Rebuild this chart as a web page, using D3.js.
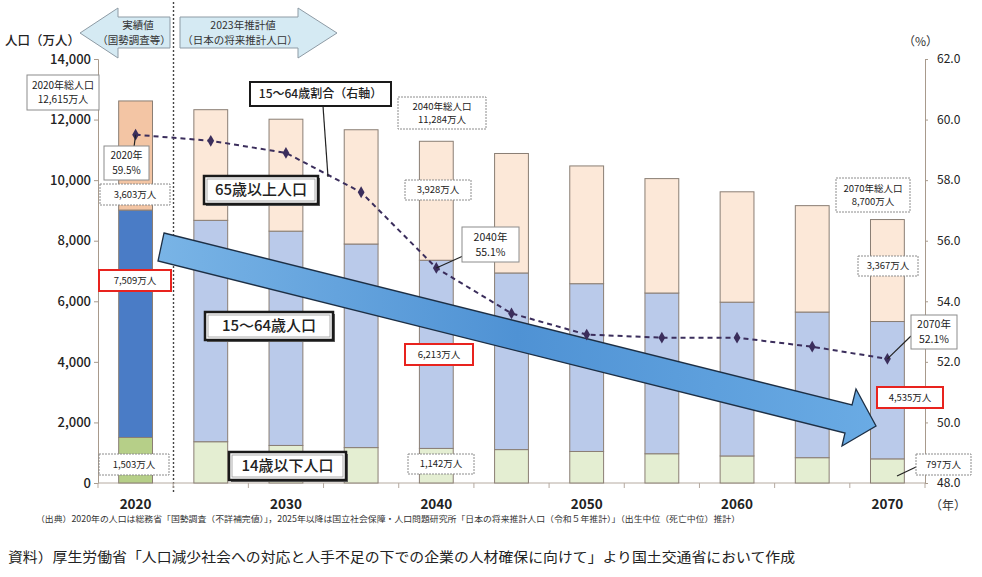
<!DOCTYPE html>
<html>
<head>
<meta charset="utf-8">
<script src="https://cdn.jsdelivr.net/npm/d3@7"></script>
<style>
  body { margin: 0; background: #fff; }
  svg { display: block; font-family: "Noto Sans CJK JP", "Noto Sans", sans-serif; }
</style>
</head>
<body>
<svg id="chart" width="982" height="577"></svg>
<script>
// Data (万人, %)
const years = [2020, 2025, 2030, 2035, 2040, 2045, 2050, 2055, 2060, 2065, 2070];
const pop0to14 = [1503, 1363, 1240, 1169, 1142, 1103, 1041, 966, 893, 836, 797];
const pop15to64 = [7509, 7310, 7076, 6722, 6213, 5832, 5540, 5307, 5078, 4809, 4535];
const pop65plus = [3603, 3653, 3696, 3773, 3928, 3945, 3888, 3778, 3644, 3513, 3367];
const ratio15to64 = [59.5, 59.3, 58.9, 57.6, 55.1, 53.6, 52.9, 52.8, 52.8, 52.5, 52.1];
const labelYears = [2020, 2030, 2040, 2050, 2060, 2070];
const leftTicks = [0, 2000, 4000, 6000, 8000, 10000, 12000, 14000];
const rightTicks = [48, 50, 52, 54, 56, 58, 60, 62];

// Layer colours: [actual (2020), projection]
const layerColours = {
  young:   ["#b6cf88", "#e4eed2"],
  working: ["#4a7cc6", "#bacaea"],
  old:     ["#f3c5a4", "#fce8d8"]
};

let table = years.map((y, i) => ({
  year: y, young: pop0to14[i], working: pop15to64[i], old: pop65plus[i], ratio: ratio15to64[i]
}));

let svg = d3.select("#chart");

// Scales
let x = d3.scaleBand().domain(years).range([98, 925]).paddingInner(0.55).paddingOuter(0.275);
let yL = d3.scaleLinear().domain([0, 14000]).range([483, 59]);
let yR = d3.scaleLinear().domain([48, 62]).range([483, 59]);

// Top period arrows
let arrowG = svg.append("g");
arrowG.append("path")
  .attr("d", "M80,33 L118,8 L118,17 L170,17 L170,48 L118,48 L118,58 Z")
  .attr("fill", "#d5eaf3").attr("stroke", "#8e9ba5").attr("stroke-width", 1);
arrowG.append("path")
  .attr("d", "M180,17 L298,17 L298,8 L337,33 L298,58 L298,48 L180,48 Z")
  .attr("fill", "#d5eaf3").attr("stroke", "#8e9ba5").attr("stroke-width", 1);
arrowG.selectAll("text")
  .data([
    ["実績値", 138, 29], ["（国勢調査等）", 134, 44],
    ["2023年推計値", 243, 29], ["（日本の将来推計人口）", 240, 44]
  ])
  .join("text")
    .attr("x", d => d[1]).attr("y", d => d[2])
    .attr("text-anchor", "middle")
    .attr("font-size", 10.5).attr("fill", "#333")
    .text(d => d[0]);

// Actual / projection divider
svg.append("line")
  .attr("x1", 173.5).attr("x2", 173.5).attr("y1", 2).attr("y2", 492)
  .attr("stroke", "#444").attr("stroke-width", 1.4).attr("stroke-dasharray", "2,2");

// Axis titles
svg.append("text").attr("x", 5).attr("y", 45).attr("font-size", 12.5).attr("font-weight", 500)
  .attr("fill", "#222").text("人口（万人）");
svg.append("text").attr("x", 903).attr("y", 46).attr("font-size", 12)
  .attr("fill", "#333").text("（%）");
svg.append("text").attr("x", 930).attr("y", 510).attr("font-size", 12)
  .attr("fill", "#333").text("（年）");

// Left axis
let axL = svg.append("g").attr("transform", "translate(98,0)")
  .call(d3.axisLeft(yL).tickValues(leftTicks).tickSize(4).tickPadding(3).tickFormat(d3.format(",")));
axL.select(".domain").attr("stroke", "#a89a8c");
axL.selectAll(".tick line").attr("stroke", "#a89a8c");
axL.selectAll(".tick text").attr("font-size", 13).attr("font-weight", 500)
  .attr("fill", "#222").attr("font-family", "'Noto Sans CJK JP', sans-serif");

// Right axis
let axR = svg.append("g").attr("transform", "translate(925,0)")
  .call(d3.axisRight(yR).tickValues(rightTicks).tickSize(3).tickPadding(9).tickFormat(d3.format(".1f")));
axR.select(".domain").attr("stroke", "#a89a8c");
axR.selectAll(".tick line").attr("stroke", "#a89a8c");
axR.selectAll(".tick text").attr("font-size", 12).attr("fill", "#222")
  .attr("font-family", "'Noto Sans CJK JP', sans-serif");

// Bottom axis: baseline, boundary ticks, decade labels
svg.append("line").attr("x1", 98).attr("x2", 925).attr("y1", yL(0)).attr("y2", yL(0))
  .attr("stroke", "#b5aaa0");
svg.append("g").selectAll("line")
  .data(d3.range(years.length + 1))
  .join("line")
    .attr("x1", i => 98 + i * x.step()).attr("x2", i => 98 + i * x.step())
    .attr("y1", yL(0)).attr("y2", yL(0) + 5)
    .attr("stroke", "#b5aaa0");
svg.append("g").selectAll("text")
  .data(labelYears)
  .join("text")
    .attr("x", d => x(d) + x.bandwidth() / 2).attr("y", 509)
    .attr("text-anchor", "middle").attr("font-size", 13.5).attr("font-weight", 700)
    .attr("fill", "#222").text(d => d);

// Stacked bars
let series = d3.stack().keys(["young", "working", "old"])(table);
svg.append("g").selectAll("g")
  .data(series)
  .join("g")
  .selectAll("rect")
  .data(s => s.map(d => Object.assign({}, d, { key: s.key })))
  .join("rect")
    .attr("x", d => x(d.data.year))
    .attr("width", x.bandwidth())
    .attr("y", d => yL(d[1]))
    .attr("height", d => yL(d[0]) - yL(d[1]))
    .attr("fill", d => layerColours[d.key][d.data.year === 2020 ? 0 : 1])
    .attr("stroke", "#8a7e74").attr("stroke-width", 1);

// Big trend arrow for working-age population
let grad = svg.append("defs").append("linearGradient")
  .attr("id", "arrowGrad").attr("x1", "0%").attr("y1", "0%").attr("x2", "100%").attr("y2", "0%");
grad.append("stop").attr("offset", "0%").attr("stop-color", "#79b4e6");
grad.append("stop").attr("offset", "50%").attr("stop-color", "#4f92d4");
grad.append("stop").attr("offset", "100%").attr("stop-color", "#6aabe4");
svg.append("path")
  .attr("d", "M164,233 L852,405 L856,389 L876,426 L842,446 L845,433 L158,261 Z")
  .attr("fill", "url(#arrowGrad)").attr("stroke", "#1d2f45").attr("stroke-width", 1.3)
  .attr("stroke-linejoin", "miter");

// 15-64 ratio line (right axis)
let lineGen = d3.line()
  .x(d => x(d.year) + x.bandwidth() / 2)
  .y(d => yR(d.ratio));
svg.append("path")
  .datum(table)
  .attr("d", lineGen)
  .attr("fill", "none").attr("stroke", "#3b2e5c").attr("stroke-width", 2)
  .attr("stroke-dasharray", "5,4");
svg.append("g").selectAll("path")
  .data(table)
  .join("path")
    .attr("d", d3.symbol(d3.symbolDiamond, 40))
    .attr("transform", d => `translate(${x(d.year) + x.bandwidth() / 2},${yR(d.ratio)})`)
    .attr("fill", "#3b2e5c");

// Annotation helpers
function px(year) { return x(year) + x.bandwidth() / 2; }
let ann = svg.append("g");
function connector(x1, y1, x2, y2) {
  ann.append("line").attr("x1", x1).attr("y1", y1).attr("x2", x2).attr("y2", y2)
    .attr("stroke", "#222").attr("stroke-width", 1.2);
}
function box(bx, by, bw, bh, lines, style = "plain", fs = 10) {
  let g = ann.append("g");
  if (style === "heavy") {
    g.append("rect").attr("x", bx + 2).attr("y", by + 2).attr("width", bw).attr("height", bh)
      .attr("fill", "#666");
  }
  g.append("rect").attr("x", bx).attr("y", by).attr("width", bw).attr("height", bh)
    .attr("fill", "#fff")
    .attr("stroke", style === "red" ? "#e8231e" : style === "heavy" || style === "bold" ? "#1a1a1a" : "#8c8c8c")
    .attr("stroke-width", style === "red" ? 2 : style === "heavy" ? 2.5 : style === "bold" ? 2 : 1)
    .attr("stroke-dasharray", style === "dash" ? "2,1" : null);
  if (style === "heavy") {
    g.append("rect").attr("x", bx + 3).attr("y", by + 3).attr("width", bw - 6).attr("height", bh - 6)
      .attr("fill", "none").attr("stroke", "#999").attr("stroke-width", 0.8);
  }
  let lh = fs * 1.45;
  let y0 = by + bh / 2 - (lines.length - 1) * lh / 2 + fs * 0.36;
  lines.forEach((t, i) => {
    g.append("text").attr("x", bx + bw / 2).attr("y", y0 + i * lh)
      .attr("text-anchor", "middle").attr("font-size", fs).attr("fill", "#222")
      .attr("font-weight", style === "heavy" || style === "bold" ? 500 : 400)
      .text(t);
  });
}

// Connectors
connector(134, 147, px(2020), yR(ratio15to64[0]));
connector(323, 106, 328, 177);
connector(463, 256, px(2040), yR(ratio15to64[4]));
connector(911, 336, px(2070), yR(ratio15to64[10]));
connector(897, 476, 916, 467);

// Boxes
box(27, 75, 72, 35, ["2020年総人口", "12,615万人"], "plain", 10);
box(104, 146, 45, 34, ["2020年", "59.5%"], "plain", 10);
box(100, 184, 70, 21, ["3,603万人"], "dash", 9.5);
box(99, 270, 72, 21, ["7,509万人"], "red", 9.5);
box(99, 454, 70, 21, ["1,503万人"], "dash", 9.5);
box(250, 82, 141, 24, ["15～64歳割合（右軸）"], "bold", 12);
box(398, 97, 88, 32, ["2040年総人口", "11,284万人"], "dash", 9.5);
box(204, 176, 114, 28, ["65歳以上人口"], "heavy", 15);
box(405, 180, 66, 20, ["3,928万人"], "dash", 9.5);
box(462, 227, 57, 35, ["2040年", "55.1%"], "plain", 10.5);
box(205, 312, 128, 28, ["15～64歳人口"], "heavy", 15);
box(405, 344, 68, 21, ["6,213万人"], "red", 9.5);
box(408, 454, 66, 20, ["1,142万人"], "dash", 9.5);
box(229, 452, 117, 28, ["14歳以下人口"], "heavy", 15);
box(836, 178, 74, 34, ["2070年総人口", "8,700万人"], "dash", 9.5);
box(858, 256, 60, 20, ["3,367万人"], "dash", 9.5);
box(911, 315, 46, 34, ["2070年", "52.1%"], "plain", 10.5);
box(877, 387, 66, 21, ["4,535万人"], "red", 9.5);
box(916, 454, 55, 21, ["797万人"], "dash", 9.5);

// Source and notes
svg.append("text").attr("x", 36).attr("y", 522).attr("font-size", 8.5).attr("fill", "#333")
  .attr("textLength", 704).attr("lengthAdjust", "spacingAndGlyphs")
  .text("（出典）2020年の人口は総務省「国勢調査（不詳補完値）」，2025年以降は国立社会保障・人口問題研究所「日本の将来推計人口（令和５年推計）」（出生中位（死亡中位）推計）");
svg.append("text").attr("x", 8).attr("y", 562).attr("font-size", 13.5).attr("fill", "#222")
  .attr("textLength", 787).attr("lengthAdjust", "spacingAndGlyphs")
  .text("資料）厚生労働省「人口減少社会への対応と人手不足の下での企業の人材確保に向けて」より国土交通省において作成");
</script>
</body>
</html>
